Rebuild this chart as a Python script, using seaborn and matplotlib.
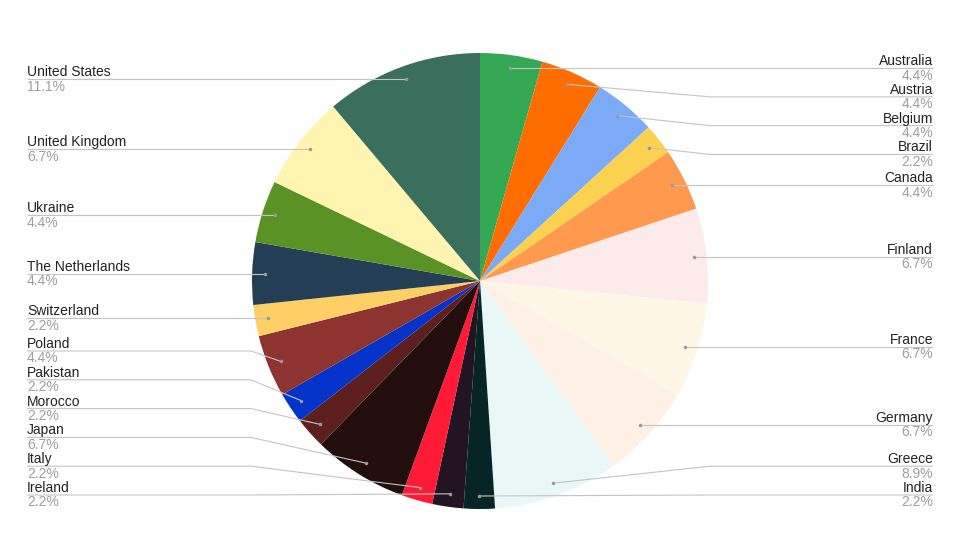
import numpy as np
import matplotlib
matplotlib.use("Agg")
import matplotlib.pyplot as plt
import seaborn as sns

# data: share of entries per country (clockwise from 12 o'clock)
countries = ["Australia", "Austria", "Belgium", "Brazil", "Canada", "Finland", "France",
             "Germany", "Greece", "India", "Ireland", "Italy", "Japan", "Morocco",
             "Pakistan", "Poland", "Switzerland", "The Netherlands", "Ukraine",
             "United Kingdom", "United States"]
shares = [4.4, 4.4, 4.4, 2.2, 4.4, 6.7, 6.7, 6.7, 8.9, 2.2, 2.2, 2.2, 6.7, 2.2,
          2.2, 4.4, 2.2, 4.4, 4.4, 6.7, 11.1]
colors = ["#34A853", "#FF6D01", "#7BAAF7", "#FBD150", "#FF994D", "#FDEBEB", "#FFF7E6",
          "#FEF0E5", "#EAF7F7", "#062626", "#231424", "#FF1A35", "#220E0C", "#5C1F1E",
          "#0433C9", "#8E3430", "#FDCF65", "#243E55", "#5A9226", "#FFF5B1", "#3A6F5E"]

sns.set_theme(style="white")
plt.rcParams["font.family"] = ["Liberation Sans", "DejaVu Sans"]

W, H = 960, 540
fig = plt.figure(figsize=(9.6, 5.4), dpi=100)
ax = fig.add_axes([0, 0, 1, 1])

# pie drawn in pixel-like coordinates (y measured upward)
cx, cy, R = 480, H - 281, 228
wedges, _ = ax.pie(shares, colors=colors, startangle=90, counterclock=False,
                   radius=R, center=(cx, cy), wedgeprops=dict(linewidth=0))
ax.set_xlim(0, W)
ax.set_ylim(0, H)
ax.set_aspect("equal")
ax.axis("off")

# anchor points inside each slice
anchors = []
for w, name, val in zip(wedges, countries, shares):
    mid = np.deg2rad((w.theta1 + w.theta2) / 2)
    ax_x = cx + 0.943 * R * np.cos(mid)
    ax_y = cy + 0.943 * R * np.sin(mid)
    side = "right" if ax_x - cx >= -3 else "left"
    anchors.append((name, val, ax_x, ax_y, side))

gap, bottom_y = 28.8, H - 495   # label spacing (in px, y up)
line_col = "#c4c4c4"

for side in ["left", "right"]:
    items = sorted([a for a in anchors if a[4] == side], key=lambda a: -a[3])
    ys = [a[3] for a in items]
    # push labels apart top -> bottom, then clamp at the bottom
    for i in range(1, len(ys)):
        ys[i] = min(ys[i], ys[i - 1] - gap)
    ys[-1] = max(ys[-1], bottom_y)
    for i in range(len(ys) - 2, -1, -1):
        ys[i] = max(ys[i], ys[i + 1] + gap)

    for (name, val, x0, y0, _), ly in zip(items, ys):
        if side == "left":
            elbow, edge, ha = 251, 27, "left"
        else:
            elbow, edge, ha = 710, 933, "right"
        ax.plot([x0, elbow, edge], [y0, ly, ly], color=line_col, lw=0.8,
                solid_capstyle="butt", zorder=3)
        ax.plot([x0], [y0], marker="o", ms=1.5, color="#9a9a9a", zorder=4)
        ax.text(edge, ly + 3, name, ha=ha, va="baseline", fontsize=10, color="#222222")
        ax.text(edge, ly - 0.5, f"{val}%", ha=ha, va="top", fontsize=10, color="#9e9e9e")

fig.savefig("out.png", dpi=100)
